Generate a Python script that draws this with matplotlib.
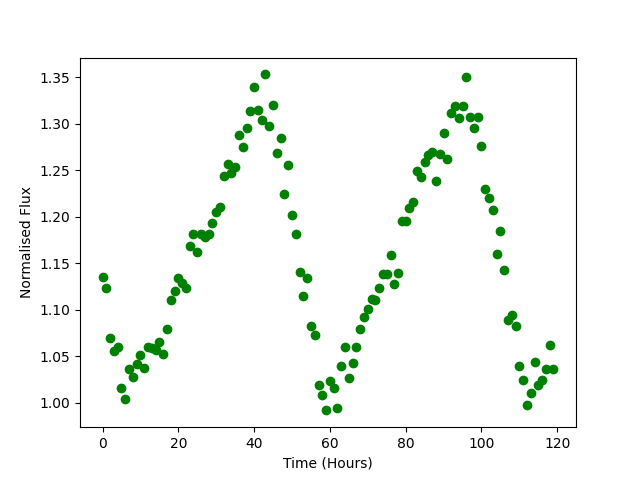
import numpy as np
import matplotlib
matplotlib.use("Agg")
import matplotlib.pyplot as plt

# one observation per hour
time_hours = np.arange(120)

flux = [
    1.135, 1.124, 1.070, 1.056, 1.060, 1.016, 1.004, 1.037, 1.028, 1.042,
    1.051, 1.038, 1.060, 1.059, 1.057, 1.066, 1.053, 1.079, 1.111, 1.120,
    1.134, 1.1285, 1.124, 1.169, 1.182, 1.162, 1.182, 1.178, 1.182, 1.193,
    1.205, 1.210, 1.244, 1.257, 1.247, 1.254, 1.288, 1.275, 1.295, 1.314,
    1.339, 1.315, 1.304, 1.353, 1.298, 1.320, 1.269, 1.285, 1.225, 1.256,
    1.202, 1.181, 1.141, 1.115, 1.134, 1.083, 1.073, 1.019, 1.009, 0.992,
    1.024, 1.016, 0.995, 1.040, 1.060, 1.027, 1.043, 1.060, 1.079, 1.092,
    1.101, 1.112, 1.111, 1.123, 1.139, 1.139, 1.159, 1.128, 1.140, 1.195,
    1.196, 1.209, 1.216, 1.249, 1.243, 1.259, 1.266, 1.270, 1.239, 1.268,
    1.290, 1.262, 1.311, 1.319, 1.306, 1.319, 1.350, 1.307, 1.295, 1.307,
    1.276, 1.230, 1.220, 1.207, 1.160, 1.185, 1.143, 1.089, 1.094, 1.083,
    1.040, 1.025, 0.998, 1.011, 1.044, 1.019, 1.025, 1.037, 1.062, 1.037,
]

fig, ax = plt.subplots(figsize=(6.4, 4.8), dpi=100)
ax.plot(time_hours, flux, "o", color="green")
ax.set_xlabel("Time (Hours)")
ax.set_ylabel("Normalised Flux")

plt.savefig("out.png", dpi=100)
